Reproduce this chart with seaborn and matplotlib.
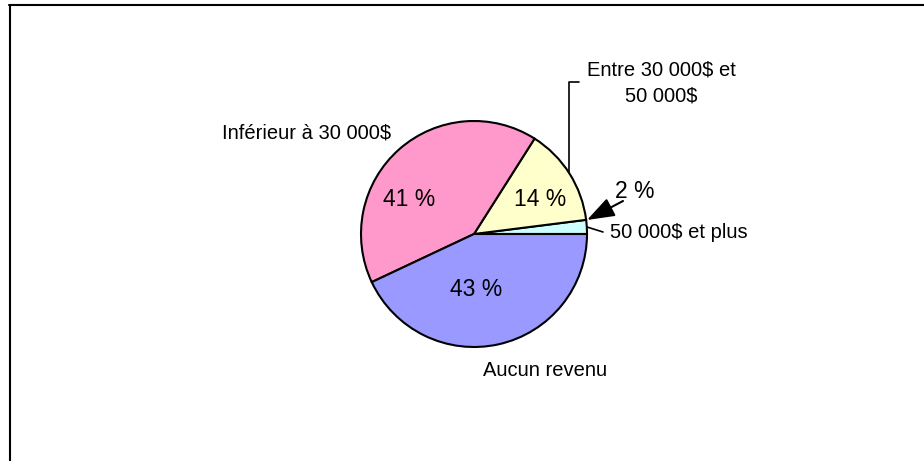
import matplotlib
matplotlib.use("Agg")
import matplotlib.pyplot as plt
import seaborn as sns

# Revenu des répondants
categories = ["50 000$ et plus", "Entre 30 000$ et\n50 000$", "Inférieur à 30 000$", "Aucun revenu"]
values = [2, 14, 41, 43]
colors = ["#CCFFFF", "#FFFFCC", "#FF99CC", "#9999FF"]

sns.set_theme(style="white")
plt.rcParams["font.family"] = ["Liberation Sans", "DejaVu Sans"]
plt.rcParams["text.color"] = "black"

W, H = 924, 461
fig = plt.figure(figsize=(W / 100, H / 100), dpi=100)
ax = fig.add_axes([0, 0, 1, 1])

# pie in pixel-like coords (y up)
cx, cy, r = 474, H - 234, 113
wedges, _ = ax.pie(values, colors=colors, startangle=0, counterclock=True,
                   center=(cx, cy), radius=r, frame=True,
                   wedgeprops=dict(edgecolor="black", linewidth=1.5))

ax.set_xlim(0, W)
ax.set_ylim(0, H)
ax.set_aspect("equal")
ax.axis("off")

# percentages inside the slices
pct_pos = [None, (540, H - 199), (409, H - 199), (476, H - 290)]
for v, pos in zip(values, pct_pos):
    if pos is not None:
        ax.text(pos[0], pos[1], f"{v} %", ha="center", va="center", fontsize=16.5)

# 2 % with arrow
ax.text(635, H - 191, f"{values[0]} %", ha="center", va="center", fontsize=16.5)
ax.annotate("", xy=(587, H - 220), xytext=(623, H - 201),
            arrowprops=dict(arrowstyle="-|>,head_length=1.4,head_width=0.5",
                            color="black", lw=1.5, mutation_scale=12,
                            shrinkA=0, shrinkB=0))

# category labels
lab = 14.5
ax.text(307, H - 133, categories[2], ha="center", va="center", fontsize=lab)
ax.text(661, H - 83, categories[1], ha="center", va="center", fontsize=lab,
        linespacing=1.5, multialignment="center")
ax.text(610, H - 233, categories[0], ha="left", va="center", fontsize=lab)
ax.text(545, H - 370, categories[3], ha="center", va="center", fontsize=lab)

# leader lines
ax.plot([569, 569, 579], [H - 173, H - 82, H - 82], color="black", lw=1.2)
ax.plot([587, 603], [H - 227, H - 232], color="black", lw=1.2)

# chart area border (top and left visible)
ax.plot([9, W], [H - 5, H - 5], color="black", lw=1.5, clip_on=False)
ax.plot([10, 10], [H - 5, 0], color="black", lw=1.5, clip_on=False)

fig.savefig("out.png", dpi=100, facecolor="white")
